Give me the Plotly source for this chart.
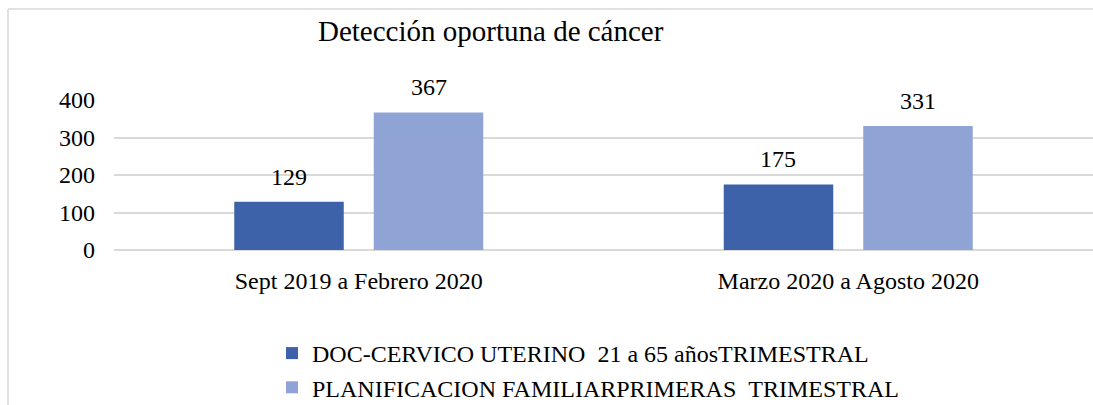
import plotly.graph_objects as go

categories = ["Sept 2019 a Febrero 2020", "Marzo 2020 a Agosto 2020"]
series_names = [
    "DOC-CERVICO UTERINO \u00a021 a 65 añosTRIMESTRAL",
    "PLANIFICACION FAMILIARPRIMERAS \u00a0TRIMESTRAL",
]
doc_values = [129, 175]
plan_values = [367, 331]
y_ticks = [0, 100, 200, 300, 400]
title_text = "Detección oportuna de cáncer"

colors = ["#3d62aa", "#8fa3d4"]
FONT = "Liberation Serif, Times New Roman, serif"
W, H = 1093, 405
L, R, T, B = 114, 0, 100, 155
BARGAP, GROUPGAP = 0.43, 0.215

pw = W - L - R
ph = H - T - B


def px_x(p):
    return (p - L) / pw


def px_y(p):
    return (H - B - p) / ph


fig = go.Figure()
series = [doc_values, plan_values]
for name, vals, col in zip(series_names, series, colors):
    fig.add_trace(go.Bar(
        x=categories, y=vals, name=name,
        marker=dict(color=col, line=dict(width=0)),
        hoverinfo="x+y+name",
    ))

# value labels above each bar, offset to the bar's slot within its group
cat_px = pw / len(categories)
slot_px = cat_px * (1 - BARGAP) / len(series)
annotations = []
for j, vals in enumerate(series):
    shift = (j - (len(series) - 1) / 2) * slot_px
    for cat, v in zip(categories, vals):
        annotations.append(dict(
            x=cat, y=v, xref="x", yref="y", text=str(v), showarrow=False,
            xanchor="center", yanchor="bottom", xshift=shift, yshift=10,
            font=dict(family=FONT, size=24, color="#000000"),
        ))

frame = dict(color="#d9d9d9", width=1.5)
fig.update_layout(
    width=W, height=H,
    margin=dict(l=L, r=R, t=T, b=B, autoexpand=False),
    paper_bgcolor="#ffffff", plot_bgcolor="#ffffff",
    font=dict(family=FONT, size=24, color="#000000"),
    barmode="group", bargap=BARGAP, bargroupgap=GROUPGAP,
    title=dict(text=title_text, xref="container", yref="container",
               x=318 / W, xanchor="left", y=1 - 31 / H, yanchor="middle",
               font=dict(family=FONT, size=29, color="#000000")),
    showlegend=True,
    legend=dict(x=px_x(272), xanchor="left", y=px_y(331), yanchor="top",
                orientation="v", font=dict(family=FONT, size=24, color="#000000"),
                bgcolor="rgba(0,0,0,0)", traceorder="normal", itemwidth=30,
                tracegroupgap=0),
    xaxis=dict(range=[-0.5, 1.5], showgrid=False, showline=False, ticks="",
               tickfont=dict(family=FONT, size=24), ticklabelstandoff=14,
               fixedrange=True),
    yaxis=dict(range=[0, 400], tickvals=y_ticks, showgrid=True,
               gridcolor="#d9d9d9", gridwidth=1.5, zeroline=True,
               zerolinecolor="#d9d9d9", zerolinewidth=1.5, showline=False,
               ticks="", tickfont=dict(family=FONT, size=24),
               ticklabelstandoff=18, fixedrange=True),
    annotations=annotations,
    shapes=[
        dict(type="line", xref="paper", yref="paper",
             x0=px_x(8), x1=px_x(W + 40), y0=px_y(9), y1=px_y(9),
             line=frame, layer="below"),
        dict(type="line", xref="paper", yref="paper",
             x0=px_x(8), x1=px_x(8), y0=px_y(9), y1=px_y(H + 20),
             line=frame, layer="below"),
    ],
)

fig.write_html(
    "out.html",
    config={"displayModeBar": False},
    post_script="document.body.style.margin='0px';document.body.style.overflow='hidden';",
)
